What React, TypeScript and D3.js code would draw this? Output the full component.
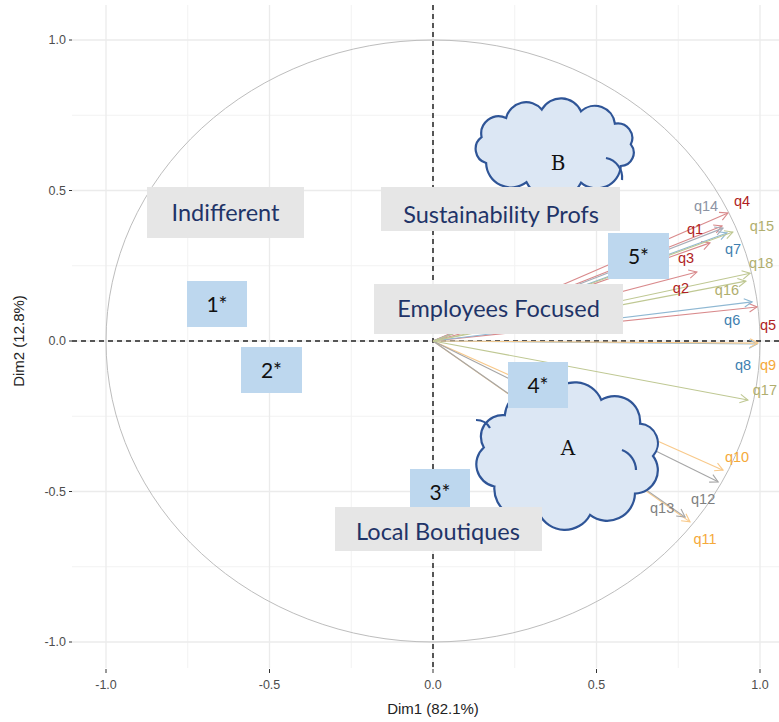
import React from "react";
import * as d3 from "d3";

// Variable coordinates on the first two dimensions
const variables = ["q1", "q2", "q3", "q4", "q5", "q6", "q7", "q8", "q9", "q10", "q11", "q12", "q13", "q14", "q15", "q16", "q17", "q18"];
const dim1 = [0.884, 0.807, 0.847, 0.902, 0.991, 0.976, 0.899, 0.991, 0.994, 0.887, 0.786, 0.872, 0.771, 0.887, 0.917, 0.957, 0.963, 0.97];
const dim2 = [0.382, 0.229, 0.326, 0.425, 0.113, 0.13, 0.359, -0.01, -0.007, -0.429, -0.601, -0.468, -0.585, 0.375, 0.362, 0.199, -0.196, 0.225];
const groups = ["red", "red", "red", "red", "red", "blue", "blue", "blue", "orange", "orange", "orange", "gray", "gray", "slate", "olive", "olive", "olive", "olive"];

// Label nudges in pixels (dx, dy) from each arrow tip
const labelNudge: [number, number][] = [
  [-27, 3], [-16, 16], [-24, 15], [14, -12], [11, 18], [-20, 18], [6, 16], [-14, 21], [10, 22],
  [14, -13], [15, 17], [-15, 17], [-23, -9], [-17, -22], [29, -6], [-19, 9], [17, -10], [11, -10],
];

const axisTicks = [-1.0, -0.5, 0.0, 0.5, 1.0];
const minorTicks = [-0.75, -0.25, 0.25, 0.75];
const xTitle = "Dim1 (82.1%)";
const yTitle = "Dim2 (12.8%)";

// Segment call-outs
const segmentNames = ["Indifferent", "Sustainability Profs", "Employees Focused", "Local Boutiques"];
const clusterNames = ["1*", "2*", "3*", "4*", "5*"];
const cloudNames = ["A", "B"];

const labelColor: Record<string, string> = {
  red: "#B01E23",
  blue: "#3F7FB0",
  orange: "#F5A93A",
  gray: "#7F7F7F",
  slate: "#8C93A3",
  olive: "#B0AE6E",
};
const arrowColor: Record<string, string> = {
  red: "#D98A8C",
  blue: "#8FB8D3",
  orange: "#F8C98A",
  gray: "#A6A6A6",
  slate: "#A8ADB8",
  olive: "#BFC893",
};

const W = 779;
const H = 722;

const x = d3.scaleLinear().domain([-1, 1]).range([106, 760]);
const y = d3.scaleLinear().domain([-1, 1]).range([642, 40]);

const panel = { left: 72, right: 779, top: 5, bottom: 668 };

// A scalloped cloud outline built from arcs between points on an ellipse
function cloudPath(cx: number, cy: number, rx: number, ry: number, angles: number[]) {
  const pts = angles.map((a) => [cx + rx * Math.cos(a), cy + ry * Math.sin(a)]);
  let d = `M${pts[0][0]},${pts[0][1]}`;
  for (let i = 1; i <= pts.length; i++) {
    const p0 = pts[i - 1];
    const p1 = pts[i % pts.length];
    const chord = Math.hypot(p1[0] - p0[0], p1[1] - p0[1]);
    const r = chord * 0.56;
    d += ` A${r},${r} 0 0 1 ${p1[0]},${p1[1]}`;
  }
  return d + "Z";
}

const deg = (v: number) => (v * Math.PI) / 180;
const cloudBAngles = [195, 230, 260, 290, 322, 356, 30, 70, 112, 155].map(deg);
const cloudAAngles = [188, 222, 258, 293, 328, 0, 38, 75, 110, 150].map(deg);

function Arrow({ i }: { i: number }) {
  const x0 = x(0);
  const y0 = y(0);
  const x1 = x(dim1[i]);
  const y1 = y(dim2[i]);
  const ang = Math.atan2(y1 - y0, x1 - x0);
  const len = 9;
  const spread = deg(28);
  const h1 = [x1 - len * Math.cos(ang - spread), y1 - len * Math.sin(ang - spread)];
  const h2 = [x1 - len * Math.cos(ang + spread), y1 - len * Math.sin(ang + spread)];
  const c = arrowColor[groups[i]];
  return (
    <g>
      <line x1={x0} y1={y0} x2={x1} y2={y1} stroke={c} strokeWidth={1.1} />
      <polyline points={`${h1[0]},${h1[1]} ${x1},${y1} ${h2[0]},${h2[1]}`} fill="none" stroke={c} strokeWidth={1.1} />
    </g>
  );
}

const calloutFont = "Lato, 'Noto Sans', sans-serif";

function GrayBox({ x0, y0, w, h, text, id, base, tx }: { x0: number; y0: number; w: number; h: number; text: string; id: string; base: number; tx?: number }) {
  return (
    <g>
      <defs>
        <clipPath id={id}>
          <rect x={x0} y={y0} width={w} height={h} />
        </clipPath>
      </defs>
      <rect x={x0} y={y0} width={w} height={h} fill="#E6E6E6" />
      <text
        x={tx ?? x0 + w / 2}
        y={base}
        textAnchor="middle"
        fontFamily={calloutFont}
        fontSize={23.5}
        fill="#1F3468"
        clipPath={`url(#${id})`}
      >
        {text}
      </text>
    </g>
  );
}

function BlueBox({ x0, y0, w, h, text }: { x0: number; y0: number; w: number; h: number; text: string }) {
  return (
    <g>
      <rect x={x0} y={y0} width={w} height={h} fill="#BDD7EE" />
      <text x={x0 + w / 2} y={y0 + h / 2 + 7.5} textAnchor="middle" fontFamily={calloutFont} fontSize={21} fill="#111">
        {text}
      </text>
    </g>
  );
}

export default function App() {
  const cloudStroke = "#2F5597";
  const cloudFill = "#DCE7F4";
  return (
    <svg width={W} height={H} style={{ position: "absolute", left: 0, top: 0, background: "#fff" }}>
      {/* grid */}
      <g>
        {minorTicks.map((t) => (
          <line key={"vx" + t} x1={x(t)} x2={x(t)} y1={panel.top} y2={panel.bottom} stroke="#F2F2F2" strokeWidth={1} />
        ))}
        {minorTicks.map((t) => (
          <line key={"hy" + t} y1={y(t)} y2={y(t)} x1={panel.left} x2={panel.right} stroke="#F2F2F2" strokeWidth={1} />
        ))}
        {axisTicks.map((t) => (
          <line key={"VX" + t} x1={x(t)} x2={x(t)} y1={panel.top} y2={panel.bottom} stroke="#EBEBEB" strokeWidth={1.3} />
        ))}
        {axisTicks.map((t) => (
          <line key={"HY" + t} y1={y(t)} y2={y(t)} x1={panel.left} x2={panel.right} stroke="#EBEBEB" strokeWidth={1.3} />
        ))}
      </g>

      {/* axis ticks and labels */}
      <g fontFamily="'Liberation Sans', Arial, sans-serif" fontSize={12.5} fill="#4D4D4D">
        {axisTicks.map((t) => (
          <g key={"yt" + t}>
            <line x1={panel.left - 3} x2={panel.left} y1={y(t)} y2={y(t)} stroke="#333" strokeWidth={1} />
            <text x={panel.left - 6} y={y(t) + 4} textAnchor="end">
              {t.toFixed(1)}
            </text>
          </g>
        ))}
        {axisTicks.map((t) => (
          <g key={"xt" + t}>
            <line x1={x(t)} x2={x(t)} y1={panel.bottom + 1} y2={panel.bottom + 5} stroke="#333" strokeWidth={1} />
            <text x={x(t)} y={panel.bottom + 21} textAnchor="middle">
              {t.toFixed(1)}
            </text>
          </g>
        ))}
      </g>
      <text x={x(0)} y={714} textAnchor="middle" fontFamily="'Liberation Sans', Arial, sans-serif" fontSize={15} fill="#222">
        {xTitle}
      </text>
      <text
        transform={`translate(24,${y(0)}) rotate(-90)`}
        textAnchor="middle"
        fontFamily="'Liberation Sans', Arial, sans-serif"
        fontSize={15}
        fill="#222"
      >
        {yTitle}
      </text>

      {/* correlation circle */}
      <ellipse cx={x(0)} cy={y(0)} rx={x(1) - x(0)} ry={y(0) - y(1)} fill="none" stroke="#BDBDBD" strokeWidth={1} />

      {/* reference axes */}
      <line x1={panel.left} x2={panel.right} y1={y(0)} y2={y(0)} stroke="#222" strokeWidth={1.5} strokeDasharray="5,4" />
      <line x1={x(0)} x2={x(0)} y1={panel.top} y2={panel.bottom} stroke="#222" strokeWidth={1.5} strokeDasharray="5,4" />

      {/* variable arrows */}
      {variables.map((v, i) => (
        <Arrow key={v} i={i} />
      ))}
      <g fontFamily="'Liberation Sans', Arial, sans-serif" fontSize={14.5}>
        {variables.map((v, i) => (
          <text
            key={"l" + v}
            x={x(dim1[i]) + labelNudge[i][0]}
            y={y(dim2[i]) + labelNudge[i][1] + 5}
            textAnchor="middle"
            fill={labelColor[groups[i]]}
          >
            {v}
          </text>
        ))}
      </g>

      {/* cloud B */}
      <g>
        <path d={cloudPath(555, 147, 76, 38, cloudBAngles)} fill={cloudFill} stroke={cloudStroke} strokeWidth={2.2} />
        <path d="M606,158 A20,20 0 0 1 622,180" fill="none" stroke={cloudStroke} strokeWidth={2.2} />
        <text x={558} y={170} textAnchor="middle" fontFamily="'DejaVu Serif', 'Liberation Serif', serif" fontSize={20} fill="#111">
          {cloudNames[1]}
        </text>
      </g>

      {/* cloud A */}
      <g>
        <path d={cloudPath(568, 456, 85, 61, cloudAAngles)} fill={cloudFill} stroke={cloudStroke} strokeWidth={2.2} />
        <path d="M476,420 A16,16 0 0 1 490,428" fill="none" stroke={cloudStroke} strokeWidth={2.2} />
        <path d="M622,450 A22,22 0 0 1 636,470" fill="none" stroke={cloudStroke} strokeWidth={2.2} />
        <text x={568} y={455} textAnchor="middle" fontFamily="'DejaVu Serif', 'Liberation Serif', serif" fontSize={20} fill="#111">
          {cloudNames[0]}
        </text>
      </g>

      {/* segment boxes */}
      <GrayBox x0={147} y0={187} w={157} h={51} base={221} text={segmentNames[0]} id="cb0" />
      <GrayBox x0={381} y0={187} w={239} h={44} base={223} text={segmentNames[1]} id="cb1" tx={501} />
      <GrayBox x0={374} y0={284} w={249} h={50} base={317} text={segmentNames[2]} id="cb2" />
      <BlueBox x0={187} y0={281} w={60} h={46} text={clusterNames[0]} />
      <BlueBox x0={241} y0={347} w={61} h={46} text={clusterNames[1]} />
      <BlueBox x0={410} y0={469} w={60} h={46} text={clusterNames[2]} />
      <GrayBox x0={335} y0={507} w={207} h={44} base={540} text={segmentNames[3]} id="cb3" tx={438} />
      <BlueBox x0={508} y0={362} w={60} h={46} text={clusterNames[3]} />
      <BlueBox x0={608} y0={233} w={61} h={46} text={clusterNames[4]} />
    </svg>
  );
}
